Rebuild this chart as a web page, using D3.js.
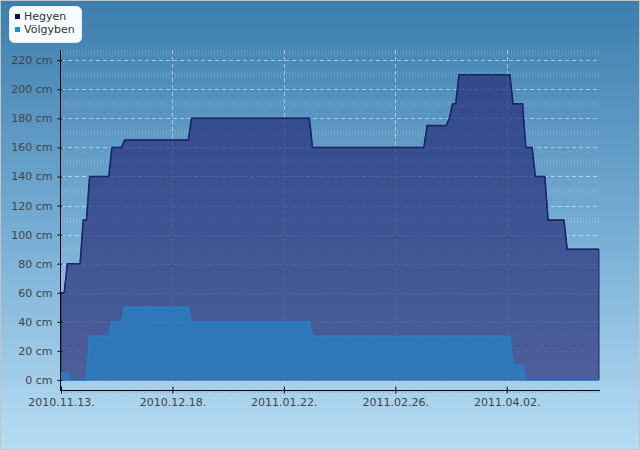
<!DOCTYPE html>
<html>
<head>
<meta charset="utf-8">
<script src="https://cdn.jsdelivr.net/npm/d3@7"></script>
<style>
  html, body { margin: 0; padding: 0; background: #fff; }
  svg { display: block; font-family: "DejaVu Sans", sans-serif; }
</style>
</head>
<body>
<svg width="640" height="450"></svg>
<script>
// water level readings (vertices of the line), cm
const hegyenDates = ["2010-11-13","2010-11-14","2010-11-15","2010-11-19","2010-11-20","2010-11-21","2010-11-22","2010-11-28","2010-11-29","2010-12-02","2010-12-03","2010-12-23","2010-12-24","2011-01-30","2011-01-31","2011-03-07","2011-03-08","2011-03-14","2011-03-15","2011-03-16","2011-03-17","2011-03-18","2011-04-03","2011-04-04","2011-04-07","2011-04-08","2011-04-10","2011-04-11","2011-04-14","2011-04-15","2011-04-20","2011-04-21","2011-05-01"];
const hegyenValues = [60,60,80,80,110,110,140,140,160,160,165,165,180,180,160,160,175,175,180,190,190,210,210,190,190,160,160,140,140,110,110,90,90];

const volgyDates = ["2010-11-13","2010-11-15","2010-11-16","2010-11-21","2010-11-22","2010-11-28","2010-11-29","2010-12-02","2010-12-03","2010-12-23","2010-12-24","2011-01-30","2011-01-31","2011-04-03","2011-04-04","2011-04-07","2011-04-08","2011-05-01"];
const volgyValues = [5,5,0,0,30,30,40,40,50,50,40,40,30,30,10,10,0,0];

const xTickDates = ["2010-11-13","2010-12-18","2011-01-22","2011-02-26","2011-04-02"];
const yTickValues = [0,20,40,60,80,100,120,140,160,180,200,220];
const seriesNames = ["Hegyen", "Völgyben"];

const svg = d3.select("svg");
const W = 640, H = 450;
const plotLeft = 61, plotRight = 599, plotTop = 50, plotBottom = 390;

const parse = d3.timeParse("%Y-%m-%d");
const hegyen = hegyenDates.map((d, i) => ({ date: parse(d), value: hegyenValues[i] }));
const volgy = volgyDates.map((d, i) => ({ date: parse(d), value: volgyValues[i] }));

const x = d3.scaleTime()
    .domain([parse("2010-11-13"), parse("2011-05-01")])
    .range([plotLeft, plotRight]);

const y = d3.scaleLinear()
    .domain([-6.9, 227])
    .range([plotBottom, plotTop]);

// background
const defs = svg.append("defs");
const grad = defs.append("linearGradient")
    .attr("id", "bg")
    .attr("x1", 0).attr("y1", 0).attr("x2", 0).attr("y2", 1);
grad.append("stop").attr("offset", "0%").attr("stop-color", "#3d7ead");
grad.append("stop").attr("offset", "50%").attr("stop-color", "#74acd3");
grad.append("stop").attr("offset", "100%").attr("stop-color", "#b8ddf4");

svg.append("rect")
    .attr("x", 0.5).attr("y", 0.5)
    .attr("width", W - 1).attr("height", H - 1)
    .attr("fill", "url(#bg)")
    .attr("stroke", "#c4c4c4");

const plot = svg.append("g");

// faint striped bands between the major grid lines
const bandValues = d3.range(10, 230, 10).filter(v => v % 20 !== 0).concat([225]);
plot.selectAll(".band")
    .data(bandValues)
    .enter()
    .append("line")
    .attr("class", "band")
    .attr("x1", plotLeft).attr("x2", plotRight)
    .attr("y1", d => y(d)).attr("y2", d => y(d))
    .attr("stroke", "#ffffff")
    .attr("stroke-opacity", 0.13)
    .attr("stroke-width", 6)
    .attr("stroke-dasharray", "1,2");

// grid
plot.selectAll(".hgrid")
    .data(yTickValues.filter(v => v > 0))
    .enter()
    .append("line")
    .attr("x1", plotLeft).attr("x2", plotRight)
    .attr("y1", d => Math.round(y(d)) + 0.5).attr("y2", d => Math.round(y(d)) + 0.5)
    .attr("stroke", "#ffffff")
    .attr("stroke-opacity", 0.5)
    .attr("stroke-dasharray", "4,3");

plot.selectAll(".vgrid")
    .data(xTickDates.slice(1).map(parse))
    .enter()
    .append("line")
    .attr("x1", d => Math.round(x(d)) + 0.5).attr("x2", d => Math.round(x(d)) + 0.5)
    .attr("y1", plotTop).attr("y2", plotBottom)
    .attr("stroke", "#ffffff")
    .attr("stroke-opacity", 0.5)
    .attr("stroke-dasharray", "4,3");

// series
const area = d3.area()
    .x(d => x(d.date))
    .y0(y(0))
    .y1(d => y(d.value));

const line = d3.line()
    .x(d => x(d.date))
    .y(d => y(d.value));

plot.append("path")
    .datum(hegyen)
    .attr("d", area)
    .attr("fill", "#242974")
    .attr("fill-opacity", 0.68)
    .attr("stroke", "#1e2868")
    .attr("stroke-width", 1);

plot.append("path")
    .datum(hegyen)
    .attr("d", line)
    .attr("fill", "none")
    .attr("stroke", "#1b2566")
    .attr("stroke-width", 1.5);

plot.append("path")
    .datum(volgy)
    .attr("d", area)
    .attr("fill", "#2c7bbd")
    .attr("fill-opacity", 0.92);

plot.append("path")
    .datum(volgy)
    .attr("d", line)
    .attr("fill", "none")
    .attr("stroke", "#2680cc")
    .attr("stroke-width", 1.5);

// axes
const yAxis = svg.append("g")
    .attr("transform", `translate(${plotLeft - 0.5},0)`)
    .call(d3.axisLeft(y)
        .tickValues(yTickValues)
        .tickSize(4)
        .tickPadding(4)
        .tickFormat(d => d + " cm"));
yAxis.select(".domain").remove();
yAxis.selectAll(".tick line").attr("x1", 2).attr("x2", -3).attr("stroke", "#000");
yAxis.selectAll("text")
    .attr("fill", "#444")
    .attr("font-size", "11px")
    .attr("font-family", "DejaVu Sans, sans-serif");

svg.append("line")
    .attr("x1", plotLeft - 0.5).attr("x2", plotLeft - 0.5)
    .attr("y1", plotTop).attr("y2", plotBottom + 1)
    .attr("stroke", "#000");

// minor day ticks under the x axis
const days = d3.timeDay.range(parse("2010-11-13"), parse("2011-05-02"));
svg.selectAll(".minor")
    .data(days)
    .enter()
    .append("line")
    .attr("x1", d => Math.round(x(d)) + 0.5).attr("x2", d => Math.round(x(d)) + 0.5)
    .attr("y1", plotBottom + 1).attr("y2", plotBottom + 3)
    .attr("stroke", "#8aa0b0")
    .attr("stroke-opacity", 0.7);

const xAxis = svg.append("g")
    .attr("transform", `translate(0,${plotBottom + 0.5})`)
    .call(d3.axisBottom(x)
        .tickValues(xTickDates.map(parse))
        .tickSize(3)
        .tickPadding(5)
        .tickFormat(d3.timeFormat("%Y.%m.%d.")));
xAxis.select(".domain").remove();
xAxis.selectAll(".tick line").attr("y1", -4).attr("y2", 3).attr("stroke", "#000");
xAxis.selectAll("text")
    .attr("fill", "#444")
    .attr("font-size", "11px")
    .attr("font-family", "DejaVu Sans, sans-serif");

svg.append("line")
    .attr("x1", plotLeft - 1).attr("x2", plotRight + 1)
    .attr("y1", plotBottom + 0.5).attr("y2", plotBottom + 0.5)
    .attr("stroke", "#000");

// legend
const legendColors = ["#0d0d5e", "#1a8fdc"];
const legend = svg.append("g");
legend.append("rect")
    .attr("x", 9.5).attr("y", 6.5)
    .attr("width", 72).attr("height", 36)
    .attr("rx", 5)
    .attr("fill", "#f6fbff")
    .attr("stroke", "#e4eef6");

const items = legend.selectAll(".item")
    .data(seriesNames)
    .enter()
    .append("g")
    .attr("transform", (d, i) => `translate(15,${14 + i * 13})`);
items.append("rect")
    .attr("width", 5).attr("height", 5)
    .attr("fill", (d, i) => legendColors[i]);
items.append("text")
    .attr("x", 9).attr("y", 6)
    .attr("font-size", "11px")
    .attr("fill", "#333")
    .text(d => d);
</script>
</body>
</html>
